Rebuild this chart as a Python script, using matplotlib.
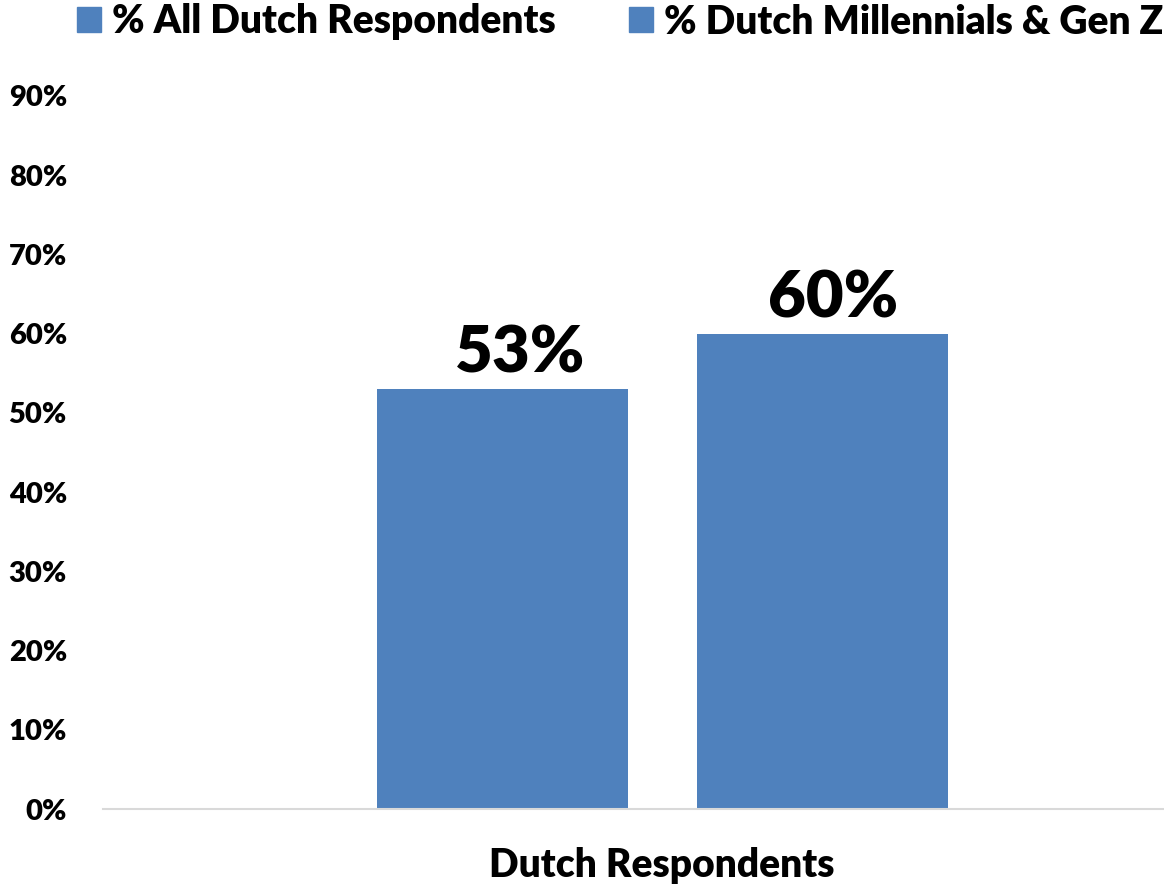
import matplotlib.pyplot as plt
from matplotlib.patches import Patch

# Data
series = ["% All Dutch Respondents", "% Dutch Millennials & Gen Z"]
values = [0.53, 0.60]
labels = ["53%", "60%"]
category = "Dutch Respondents"
yticks = [0, 0.1, 0.2, 0.3, 0.4, 0.5, 0.6, 0.7, 0.8, 0.9]

bar_color = "#4F81BD"
font = ["Lato", "DejaVu Sans"]
plt.rcParams["font.family"] = font
wt = "heavy"

fig = plt.figure(figsize=(11.64, 8.89), dpi=100)
ax = fig.add_axes([103 / 1164, 1 - 809 / 889, 1 - 103 / 1164, (809 - 96) / 889])

offsets = [-0.5, 0.5]
label_shift = [13, 8]  # labels sit a bit right of bar centre in the original
for off, v, lab, dx in zip(offsets, values, labels, label_shift):
    ax.bar(off, v, width=0.784, color=bar_color, zorder=2)
    ax.annotate(lab, (off, v), xytext=(dx, 4), textcoords="offset points",
                ha="center", va="bottom", fontsize=47, fontweight=wt)

ax.set_xlim(-1.748, 1.567)
ax.set_ylim(0, 0.9)
ax.set_yticks(yticks)
ax.set_yticklabels([f"{int(round(t * 100))}%" for t in yticks], fontsize=21, fontweight=wt)
ax.tick_params(axis="y", length=0, pad=26)
ax.set_xticks([])
for s in ["top", "right", "left"]:
    ax.spines[s].set_visible(False)
ax.spines["bottom"].set_color("#D9D9D9")
ax.spines["bottom"].set_linewidth(1.5)

fig.text(662 / 1164, 1 - 866 / 889, category, ha="center", va="center", fontsize=28, fontweight=wt)

handles = [Patch(color=bar_color, label=s) for s in series]
fig.legend(handles=handles, loc="center", bbox_to_anchor=(620 / 1164, 1 - 22 / 889), ncol=2,
           frameon=False, handlelength=0.62, handleheight=0.62, handletextpad=0.28,
           columnspacing=1.9, prop={"weight": wt, "size": 28})

fig.savefig("out.png", dpi=100)
